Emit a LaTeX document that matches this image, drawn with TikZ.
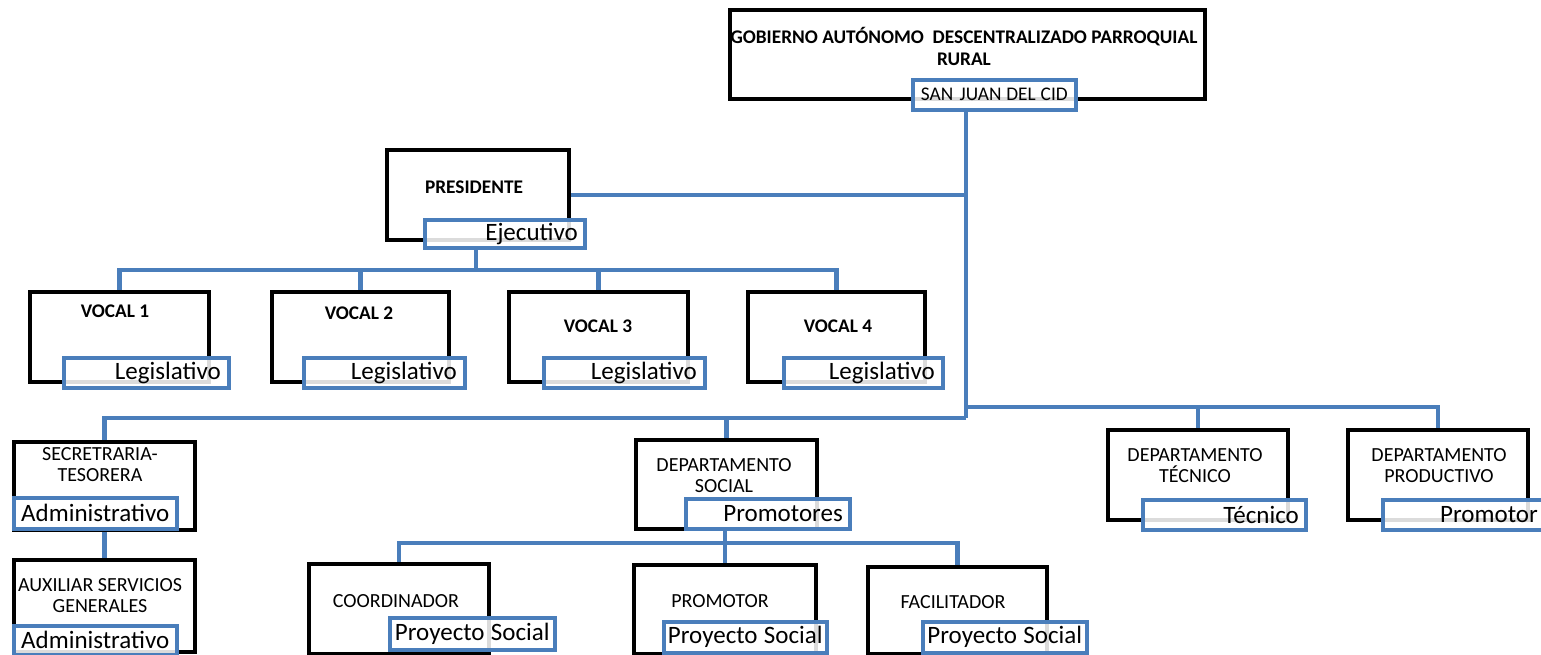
\documentclass[tikz,border=0pt]{standalone}
\usepackage{fontspec}
\setmainfont{Carlito}
\usetikzlibrary{backgrounds}
\definecolor{obl}{HTML}{4A7EBB}
\begin{document}
\begin{tikzpicture}[x=1pt,y=-1pt,
  box/.style={draw=black, line width=4.2pt, fill=white, inner sep=0pt, anchor=north west},
  lab/.style={draw=obl, line width=3.6pt, fill=white, fill opacity=0.86, draw opacity=1, text opacity=1,
    inner xsep=7pt, inner ysep=0pt, anchor=north west, font=\fontsize{25}{25}\selectfont, align=right},
  ttl/.style={font=\fontsize{19.3}{22}\selectfont\bfseries, align=center, inner sep=0pt},
  tt/.style={font=\fontsize{20}{21}\selectfont, align=center, inner sep=0pt},
  conn/.style={draw=obl, line width=4.5pt},
]
\useasboundingbox (0,0) rectangle (1541,655);

% top
\node[box, minimum width=475, minimum height=89] (gad) at (728,8) {};
\node[ttl] (gadt) at (964,46) {GOBIERNO AUTÓNOMO\ \ DESCENTRALIZADO PARROQUIAL\\RURAL};
\node[lab, font=\fontsize{19.3}{19}\selectfont, align=center, inner xsep=3pt, text width=157, minimum height=30] (sj) at (911,78) {SAN JUAN\hspace{-1.5pt} DEL\hspace{-1.5pt} CID};

% president
\node[box, minimum width=182, minimum height=90] (pres) at (385,148) {};
\node[ttl] (prest) at (474,187) {PRESIDENTE};
\node[lab, text width=146, minimum height=28] (ejec) at (423,218) {Ejecutivo};

% vocals
\node[box, minimum width=179, minimum height=90] (v1) at (28,290) {};
\node[ttl] (v1t) at (115,311) {VOCAL 1};
\node[lab, inner xsep=8pt, text width=149, minimum height=30] (v1l) at (62,356) {Legislativo};

\node[box, minimum width=177, minimum height=90] (v2) at (270,290) {};
\node[ttl] (v2t) at (359,313) {VOCAL 2};
\node[lab, inner xsep=8pt, text width=145, minimum height=30] (v2l) at (302,356) {Legislativo};

\node[box, minimum width=179, minimum height=90] (v3) at (507,290) {};
\node[ttl] (v3t) at (598,326) {VOCAL 3};
\node[lab, inner xsep=8pt, text width=145, minimum height=30] (v3l) at (542,356) {Legislativo};

\node[box, minimum width=177, minimum height=90] (v4) at (746,290) {};
\node[ttl] (v4t) at (838,326) {VOCAL 4};
\node[lab, inner xsep=8pt, text width=143, minimum height=30] (v4l) at (782,356) {Legislativo};

% secretaria / auxiliar
\node[box, minimum width=181, minimum height=88] (sec) at (12,440) {};
\node[tt] (sect) at (100,465) {SECRETRARIA-\\TESORERA};
\node[lab, align=center, inner xsep=3pt, text width=157, minimum height=31] (secl) at (12,496) {Administrativo};

\node[box, minimum width=181, minimum height=92] (aux) at (12,558) {};
\node[tt] (auxt) at (100,596) {AUXILIAR SERVICIOS\\GENERALES};
\node[lab, align=center, inner xsep=3pt, text width=157, minimum height=29] (auxl) at (12,624) {Administrativo};

% departamento social
\node[box, minimum width=181, minimum height=89] (soc) at (634,438) {};
\node[tt] (soct) at (724,476) {DEPARTAMENTO\\SOCIAL};
\node[lab, text width=150, minimum height=30] (socl) at (684,497) {Promotores};

\node[box, minimum width=180, minimum height=90] (coo) at (307,562) {};
\node[tt] (coot) at (396,601) {COORDINADOR};
\node[lab, align=center, inner xsep=3pt, text width=159, minimum height=32] (cool) at (388,616) {Proyecto\hspace{-2pt} Social};

\node[box, minimum width=182, minimum height=89] (pro) at (632,563) {};
\node[tt] (prot) at (720,601) {PROMOTOR};
\node[lab, align=center, inner xsep=3pt, text width=157, minimum height=31] (prol) at (662,620) {Proyecto\hspace{-2pt} Social};

\node[box, minimum width=179, minimum height=87] (fac) at (866,565) {};
\node[tt] (fact) at (953,602) {FACILITADOR};
\node[lab, align=center, inner xsep=3pt, text width=158, minimum height=31] (facl) at (921,620) {Proyecto\hspace{-2pt} Social};

% tecnico / productivo
\node[box, minimum width=180, minimum height=90] (tec) at (1106,428) {};
\node[tt] (tect) at (1195,466) {DEPARTAMENTO\\TÉCNICO};
\node[lab, text width=149, minimum height=30] (tecl) at (1141,498) {Técnico};

\node[box, minimum width=180, minimum height=90] (prd) at (1346,428) {};
\node[tt] (prdt) at (1439,466) {DEPARTAMENTO\\PRODUCTIVO};
\node[lab, text width=148, minimum height=30] (prdl) at (1381,498) {Promotor};

% connectors
\coordinate (tx) at (966,0);
\coordinate (jl) at (966,418);
\coordinate (jr) at (966,407);
\coordinate (je) at (476,270);
\coordinate (jp) at (725,543);
\begin{scope}[on background layer]
\fill[white] (0,0) rectangle (1541,655);
\draw[conn] (sj.south -| tx) -- (jl);
\draw[conn] (pres.east) -- (pres.east -| tx);
\draw[conn] (jr) -| (tec.north);
\draw[conn] (jr) -| (prd.north);
\draw[conn] (jl) -| (sec.north);
\draw[conn] (jl) -| (soc.north);
\draw[conn] (ejec.south -| je) -- (je);
\draw[conn] (je) -| (v1.north);
\draw[conn] (je) -| (v2.north);
\draw[conn] (je) -| (v3.north);
\draw[conn] (je) -| (v4.north);
\draw[conn] (sec.south) -- (aux.north);
\draw[conn] (socl.south -| jp) -- (jp);
\draw[conn] (jp) -| (coo.north);
\draw[conn] (jp) -| (pro.north);
\draw[conn] (jp) -| (fac.north);
\end{scope}
\end{tikzpicture}
\end{document}
